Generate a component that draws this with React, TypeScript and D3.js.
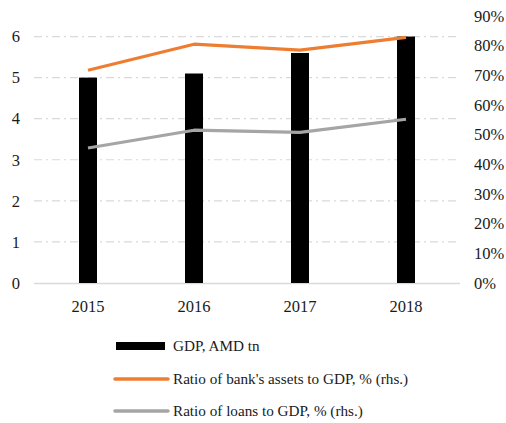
import React from "react";
import * as d3 from "d3";

const years = ["2015", "2016", "2017", "2018"];
const gdp = [5.0, 5.1, 5.6, 6.0];
const assetsRatio = [0.717, 0.805, 0.785, 0.828];
const loansRatio = [0.455, 0.515, 0.508, 0.552];
const leftTicks = [0, 1, 2, 3, 4, 5, 6];
const rightTicks = [0, 0.1, 0.2, 0.3, 0.4, 0.5, 0.6, 0.7, 0.8, 0.9];
const legendLabels = ["GDP, AMD tn", "Ratio of bank's assets to GDP, % (rhs.)", "Ratio of loans to GDP, % (rhs.)"];

const W = 506, H = 423;
const plotLeft = 35, plotRight = 459, plotTop = 16, plotBottom = 283;
const font = "'Liberation Serif', 'Times New Roman', serif";

export default function App() {
  const x = d3.scaleBand<string>().domain(years).range([plotLeft, plotRight]);
  const yL = d3.scaleLinear().domain([0, 6.5]).range([plotBottom, plotTop]);
  const yR = d3.scaleLinear().domain([0, 0.9]).range([plotBottom, plotTop]);
  const barW = 18;
  const cx = (y: string) => (x(y) as number) + x.bandwidth() / 2;
  const line = d3.line<number>().x((_, i) => cx(years[i])).y((v) => yR(v));

  return (
    <svg width={W} height={H} style={{ position: "absolute", left: 0, top: 0 }} fontFamily={font}>
      <rect width={W} height={H} fill="#fff" />
      {leftTicks.filter((t) => t > 0).map((t) => (
        <line key={t} x1={plotLeft - 1} x2={plotRight + 1} y1={yL(t)} y2={yL(t)} stroke="#D9D9D9" strokeWidth={1.2} strokeDasharray="8,4,2,4" />
      ))}
      <line x1={plotLeft - 1} x2={plotRight + 1} y1={plotBottom + 0.5} y2={plotBottom + 0.5} stroke="#D9D9D9" strokeWidth={1.5} />
      {years.map((y, i) => (
        <rect key={y} x={cx(y) - barW / 2} y={yL(gdp[i])} width={barW} height={plotBottom - yL(gdp[i])} fill="#000" />
      ))}
      <path d={line(assetsRatio) || ""} fill="none" stroke="#ED7D31" strokeWidth={3.2} strokeLinejoin="round" />
      <path d={line(loansRatio) || ""} fill="none" stroke="#A5A5A5" strokeWidth={3.2} strokeLinejoin="round" />
      {leftTicks.map((t) => (
        <text key={t} x={20} y={yL(t)} dy="0.35em" textAnchor="end" fontSize={16.5} fill="#1a1a1a">{t}</text>
      ))}
      {rightTicks.map((t) => (
        <text key={t} x={474} y={yR(t)} dy="0.35em" textAnchor="start" fontSize={16.5} fill="#1a1a1a">{d3.format(".0%")(t)}</text>
      ))}
      {years.map((y) => (
        <text key={y} x={cx(y)} y={306} dy="0.35em" textAnchor="middle" fontSize={16.5} fill="#1a1a1a">{y}</text>
      ))}
      <rect x={116} y={342} width={49} height={8} fill="#000" />
      <line x1={115} x2={168} y1={379} y2={379} stroke="#ED7D31" strokeWidth={3.5} strokeLinecap="round" />
      <line x1={115} x2={168} y1={411} y2={411} stroke="#A5A5A5" strokeWidth={3.5} strokeLinecap="round" />
      {legendLabels.map((l, i) => (
        <text key={l} x={173} y={346 + i * 32.5} dy="0.35em" fontSize={15.2} fill="#1a1a1a">{l}</text>
      ))}
    </svg>
  );
}
